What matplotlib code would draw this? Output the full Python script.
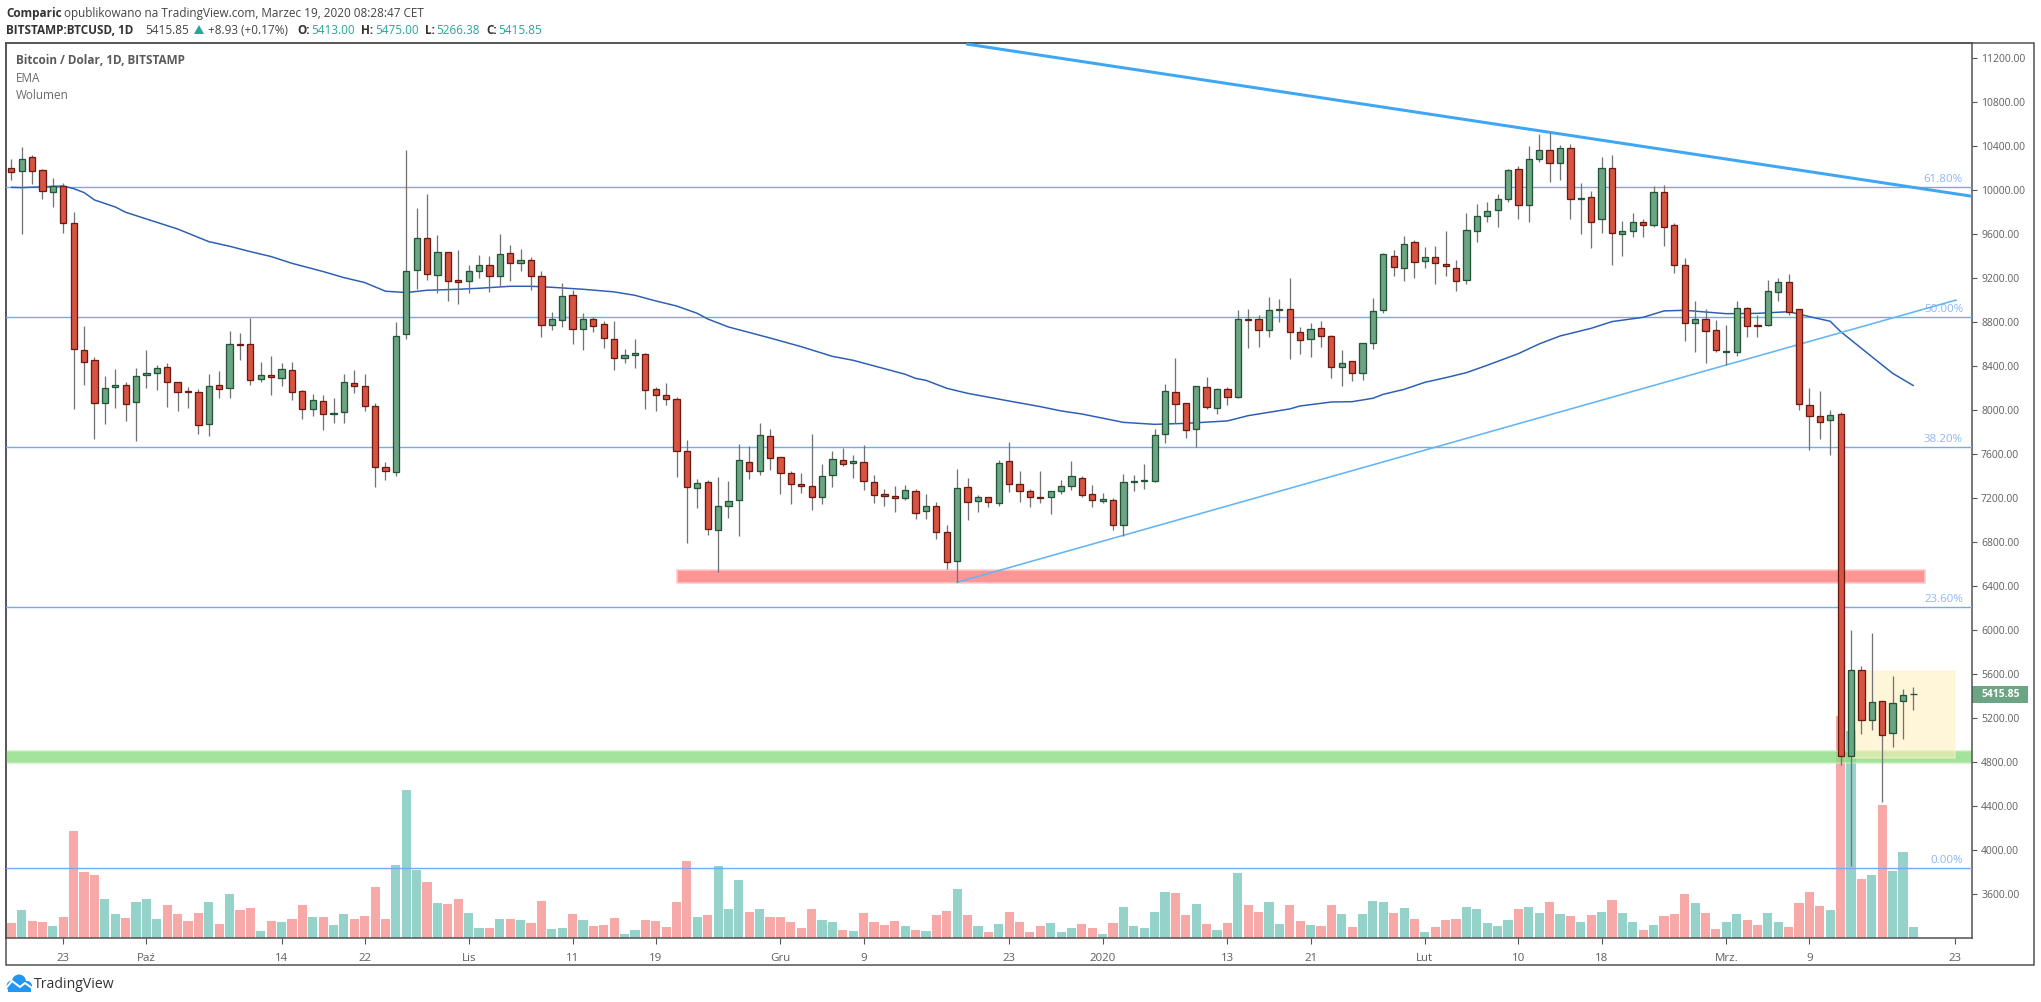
import matplotlib
matplotlib.use("Agg")
import matplotlib.pyplot as plt
from matplotlib.patches import Rectangle, Circle, Polygon
from matplotlib.ticker import FixedLocator, FuncFormatter
from matplotlib.lines import Line2D

plt.rcParams['font.family'] = ['Open Sans', 'DejaVu Sans']

W, H = 2041, 1002

# one letter per daily candle, 18 Sep 2019 .. 19 Mar 2020 (r = down, g = up)
directions = ("rgrrgrrrrg" "grgggrrrrg" "rgrrgrgrrg" "rggrrrrggg" "rgrrggrgrg"
              "rrggrgrrrg" "grrrrrgrgg" "grgrrrrrgg" "rgrrrrgrgr" "rgrgrgrrrr"
              "gggrrgrggg" "ggrrgrgrgr" "rggrrgrrgr" "gggrgrgrrr" "gggggrggrg"
              "rgrgrggrgr" "rrgrrggrrg" "grrrrgrgrg" "rggg")
highs = [10276,10388,10312,10191,10106,10061,9797,8761,8476,8306,
         8370,8249,8376,8543,8403,8421,8249,8203,8185,8324,
         8352,8715,8694,8833,8433,8488,8424,8433,8179,8140,
         8130,8106,8324,8361,8324,8058,7524,8797,10360,9833,
         9960,9588,9436,9452,9312,9406,9397,9597,9497,9461,
         9388,9261,8888,9148,9088,8876,8846,8803,8806,8549,
         8643,8512,8203,8240,8118,7721,7369,7360,7385,7351,
         7685,7666,7878,7824,7566,7439,7421,7778,7503,7624,
         7648,7584,7675,7406,7278,7303,7315,7278,7230,7157,
         6951,7460,7378,7224,7206,7542,7706,7442,7278,7442,
         7260,7360,7533,7394,7315,7239,7194,7415,7406,7503,
         7824,8230,8469,8057,8212,8297,8194,8206,8906,8915,
         8857,9024,9006,9196,8751,8787,8806,8678,8542,8445,
         8603,9015,9421,9451,9578,9542,9478,9487,9624,9360,
         9787,9869,9887,9960,10187,10215,10396,10505,10515,10405,
         10415,10060,9987,10296,10315,9715,9787,9730,10030,10039,
         9696,9375,8987,8912,8815,8769,8987,8930,8860,9178,
         9197,9233,8912,8197,8169,7997,7975,5993,5668,5970,
         5353,5578,5457,5475]
body_tops = [10194,10276,10294,10176,10030,10030,9694,8539,8449,8194,
             8221,8221,8303,8330,8376,8385,8249,8167,8158,8212,
             8221,8594,8594,8594,8312,8312,8367,8358,8167,8085,
             8076,7967,8249,8240,8212,8030,7476,8667,9258,9558,
             9558,9430,9430,9176,9258,9312,9312,9412,9421,9358,
             9358,9212,8821,9030,9039,8821,8821,8776,8639,8494,
             8512,8503,8185,8130,8094,7621,7330,7339,7121,7166,
             7539,7521,7766,7757,7566,7421,7321,7303,7394,7548,
             7539,7530,7521,7339,7230,7212,7266,7257,7121,7121,
             6885,7285,7294,7203,7203,7512,7530,7321,7257,7203,
             7257,7303,7394,7375,7230,7185,7175,7339,7348,7357,
             7766,8166,8157,8057,8212,8203,8184,8184,8821,8821,
             8821,8903,8912,8912,8703,8730,8739,8666,8421,8439,
             8603,8893,9412,9393,9503,9521,9384,9384,9321,9284,
             9630,9757,9803,9912,10175,10184,10275,10357,10357,10375,
             10375,9921,9930,10193,10193,9621,9702,9702,9975,9975,
             9675,9312,8821,8821,8721,8530,8921,8921,8766,9075,
             9157,9157,8912,8039,7939,7948,7964,5630,5630,5344,
             5353,5331,5409,5415.85]
body_bottoms = [10164,10167,10173,9991,9982,9694,8549,8430,8058,8058,
                8203,8049,8067,8312,8330,8249,8158,8158,7858,7867,
                8185,8194,8588,8267,8276,8294,8285,8158,8003,8003,
                7958,7958,7976,8212,8030,7476,7440,7430,8685,9267,
                9230,9221,9167,9158,9167,9258,9212,9212,9330,9330,
                9212,8767,8767,8812,8730,8730,8758,8648,8467,8467,
                8494,8176,8130,8094,7621,7294,7285,6912,6903,7127,
                7175,7439,7439,7557,7421,7321,7303,7203,7203,7403,
                7503,7512,7348,7221,7212,7194,7194,7057,7075,6885,
                6612,6621,7157,7166,7157,7148,7321,7257,7203,7194,
                7203,7257,7303,7221,7175,7166,6948,6948,7339,7354,
                7354,7775,8048,7812,7821,8021,8012,8112,8112,8818,
                8721,8721,8903,8703,8630,8639,8666,8384,8385,8330,
                8330,8603,8903,9293,9284,9339,9348,9330,9303,9166,
                9175,9621,9757,9812,9912,9857,9857,10275,10239,10239,
                9912,9915,9702,9730,9603,9593,9621,9675,9675,9657,
                9312,8784,8784,8712,8539,8527,8521,8757,8760,8766,
                9066,8890,8048,7939,7885,7903,4847,4847,5175,5175,
                5039,5058,5347,5413]
lows = [10088,9597,10051,9915,9845,9606,8006,8224,7736,7870,
        8015,7900,7718,8197,8179,8024,7991,8015,7782,7764,
        8106,8106,8452,8224,8252,8133,8215,8088,7918,7946,
        7818,7882,7882,8155,7991,7300,7364,7400,8646,9097,
        9179,9061,8988,8961,9061,9197,9070,9124,9170,9261,
        9088,8661,8724,8752,8597,8543,8706,8561,8361,8424,
        8379,8006,7988,8039,7391,6791,7109,6863,6521,7018,
        6854,7372,7409,7454,7233,7142,7245,7091,7145,7297,
        7488,7379,7269,7151,7124,7072,7178,7006,7006,6824,
        6551,6430,6997,7072,7118,7124,7251,7163,7118,7154,
        7051,7236,7272,7209,7118,7148,6906,6854,7260,7275,
        7345,7697,7875,7742,7663,8006,7960,8042,8109,8560,
        8569,8660,8797,8460,8506,8478,8569,8287,8215,8260,
        8269,8551,8881,9215,9169,9197,9287,9142,9215,9078,
        9142,9524,9706,9660,9887,9733,9706,10254,10069,10087,
        9733,9596,9469,9606,9315,9396,9569,9569,9660,9487,
        9242,8624,8524,8424,8527,8406,8487,8660,8660,8760,
        8987,8860,7997,7633,7733,7587,4772,3847,5052,5091,
        4431,4931,5009,5266.38]
volumes = [46,85,52,49,37,64,322,199,190,118,
           73,61,109,118,58,100,73,52,76,109,
           43,133,85,91,22,52,49,58,100,64,
           64,40,73,58,67,154,58,220,445,205,
           169,106,103,118,76,31,31,58,58,55,
           46,112,28,31,73,55,37,40,61,13,
           25,55,52,34,109,232,64,70,217,88,
           175,79,88,64,64,49,31,88,55,49,
           25,22,76,49,40,52,37,25,22,70,
           82,148,70,37,19,43,79,49,19,37,
           46,19,31,43,31,13,46,94,37,31,
           79,139,136,70,103,43,25,46,196,100,
           79,109,43,100,52,40,37,100,73,34,
           73,112,109,76,91,58,19,34,55,58,
           94,88,46,37,55,88,94,76,109,73,
           67,49,70,79,115,76,49,25,40,67,
           73,133,106,76,28,49,73,55,40,76,
           49,34,106,139,97,85,667,622,178,190,
           400,202,259,34]
ema_days = [0,1,5,6,7,8,10,11,13,16,19,21,23,25,27,30,32,34,36,38,40,43,45,48,50,52,55,58,60,62,
            64,66,67,69,73,76,79,81,84,86,87,88,90,92,96,99,101,103,107,110,113,117,119,123,124,127,
            129,131,132,134,136,138,140,142,145,147,149,152,154,157,159,161,163,165,168,171,173,175,176,179,181,183]
ema_values = [10021,10018,10033,10009,9973,9906,9842,9794,9733,9642,9527,9485,9436,9391,9330,9255,9200,9155,9076,9064,
              9085,9094,9103,9121,9121,9112,9094,9070,9039,8988,
              8942,8875,8824,8751,8651,8572,8484,8448,8372,8321,8284,8266,8194,8148,8078,8027,7988,7960,7884,7866,
              7875,7897,7945,8006,8033,8069,
              8072,8103,8139,8184,8248,8290,8336,8403,8509,8597,8669,8739,8800,8839,8897,8903,8887,8872,8875,8890,
              8845,8803,8709,8481,8330,8218]
fib_levels = [10020, 8838, 7656, 6204, 3835]
fib_labels = ["61.80%", "50.00%", "38.20%", "23.60%", "0.00%"]
price_ticks = [3600 + 400 * k for k in range(20)]
date_tick_days = [5, 13, 26, 34, 44, 54, 62, 74, 82, 96, 105, 117, 125, 136, 145, 153, 165, 173, 187]
date_tick_labels = ["23", "Paź", "14", "22", "Lis", "11", "19", "Gru", "9", "23", "2020",
                    "13", "21", "Lut", "10", "18", "Mrz.", "9", "23"]
resistance_zone = (64, 184.1, 6421, 6539)
support_zone = (4785, 4899)
range_box = (177, 187, 4833, 5626)
falling_trend = ([91.85, 188.6], [11324, 9940])
rising_trend = ([91, 187.1], [6430, 8996])
last_price = 5415.85

# pane geometry in pixels
PL, PR, PT, PB, FR, FB = 6, 1972, 43, 938, 2034, 965
def fx(x): return x / W
def fy(y): return 1 - y / H
def px(v): return v * 0.72   # px -> pt at dpi 100

fig = plt.figure(figsize=(W / 100, H / 100), dpi=100, facecolor="white")
rect = [fx(PL), fy(PB), (PR - PL) / W, (PB - PT) / H]
XLIM = ((PL - 11.3) / 10.394, (PR - 11.3) / 10.394)
YLIM = (8000 - (PB - 409.6) / 0.11, 8000 + (409.6 - PT) / 0.11)

vol = fig.add_axes(rect, zorder=1)
vol.set_xlim(*XLIM); vol.set_ylim(0, (PB - PT) * 3)
vol.axis("off")
days = list(range(len(directions)))
vcol = ["#f7a9a7" if d == "r" else "#94d2ca" for d in directions]
vol.bar(days, volumes, width=0.88, color=vcol, linewidth=0)

ax = fig.add_axes(rect, zorder=2)
ax.patch.set_alpha(0)
ax.set_xlim(*XLIM); ax.set_ylim(*YLIM)
for s in ax.spines.values():
    s.set_color("#4f4f4f"); s.set_linewidth(px(1.5))

# zones
ax.add_patch(Rectangle((resistance_zone[0], resistance_zone[2]), resistance_zone[1] - resistance_zone[0],
                       resistance_zone[3] - resistance_zone[2], fc="#fe9595", ec="#ffc9c9", lw=px(1.5), zorder=2))
ax.add_patch(Rectangle((XLIM[0], support_zone[0]), XLIM[1] - XLIM[0], support_zone[1] - support_zone[0],
                       fc="#8edc82", ec="#c4eebd", alpha=0.8, lw=px(1.5), zorder=2))
ax.add_patch(Rectangle((range_box[0], range_box[2]), range_box[1] - range_box[0], range_box[3] - range_box[2],
                       fc="#ffeebb", ec="#fff3d0", alpha=0.55, lw=px(1.5), zorder=2.5))

# fib levels
for lev, lab in zip(fib_levels, fib_labels):
    ax.axhline(lev, color="#74a9f3", lw=px(1.4), zorder=3)
    ax.text((1963 - 11.3) / 10.394, lev + 20, lab, color="#8fb6f2", fontsize=px(11.5), ha="right", va="bottom", zorder=3)

# EMA and trend lines
ax.plot(ema_days, ema_values, color="#2c5fb3", lw=px(1.5), zorder=4, solid_capstyle="round")
ax.plot(*falling_trend, color="#3ea6f2", lw=px(3), zorder=4, solid_capstyle="butt")
ax.plot(*rising_trend, color="#64b5f6", lw=px(1.6), zorder=4)

# candles
ax.vlines(days, lows, highs, color="#737375", lw=px(1.3), zorder=5)
heights = [t - b for t, b in zip(body_tops, body_bottoms)]
fills = ["#d75442" if d == "r" else "#6ba583" for d in directions]
edges = ["#6b1a12" if d == "r" else "#225437" for d in directions]
ax.bar(days, heights, bottom=body_bottoms, width=0.6, color=fills, edgecolor=edges, linewidth=px(1.3), zorder=6)

# axes ticks
ax.yaxis.tick_right()
ax.yaxis.set_major_locator(FixedLocator(price_ticks))
ax.yaxis.set_major_formatter(FuncFormatter(lambda v, p: f"{v:.2f}"))
ax.xaxis.set_major_locator(FixedLocator(date_tick_days))
ax.set_xticklabels(date_tick_labels)
ax.tick_params(axis="y", length=3.6, width=px(1.1), color="#555555", labelcolor="#5f5f5f", labelsize=px(10.4), pad=2.9)
ax.tick_params(axis="x", length=4, width=px(1.1), color="#555555", labelcolor="#5f5f5f", labelsize=px(11.5), pad=7)

# last price tag
ax.annotate(f"{last_price:.2f}", xy=(1.0, last_price), xycoords=("axes fraction", "data"),
            xytext=(px(9), -0.7), textcoords="offset points", color="white", fontsize=px(10.4),
            fontweight="bold", va="center", ha="left", zorder=12, annotation_clip=False)
y_tag = PT + (YLIM[1] - last_price) * 0.11 + 1
fig.add_artist(Rectangle((fx(PR), fy(y_tag + 8.5)), (2028 - PR) / W, 17 / H, transform=fig.transFigure,
                         fc="#6ba583", ec="none", zorder=1.5))

# outer frame
fig.add_artist(Rectangle((fx(PL), fy(FB)), (FR - PL) / W, (FB - PT) / H, transform=fig.transFigure,
                         fc="none", ec="#4f4f4f", lw=px(1.5)))

def t(x, y, s, **kw):
    kw.setdefault("fontsize", px(11.8))
    kw.setdefault("color", "#3c3c3c")
    kw.setdefault("va", "center")
    fig.text(fx(x), fy(y), s, **kw)

# header
t(6, 13, "Comparic", fontweight="bold", color="#333333")
t(64, 13, "opublikowano na TradingView.com, Marzec 19, 2020 08:28:47 CET", color="#444444")
t(6, 30, "BITSTAMP:BTCUSD, 1D", fontweight="bold", color="#333333")
t(145, 30, "5415.85", color="#444444")
fig.add_artist(Polygon([[fx(194), fy(34)], [fx(204), fy(34)], [fx(199), fy(25)]], transform=fig.transFigure,
                       fc="#26a69a", ec="none"))
t(208, 30, "+8.93 (+0.17%)", color="#444444")
teal = "#26a69a"
for x, s in [(297, "O:"), (361, "H:"), (425, "L:"), (486, "C:")]:
    t(x, 30, s, fontweight="bold", color="#333333")
for x, s in [(311, "5413.00"), (375, "5475.00"), (436, "5266.38"), (498, "5415.85")]:
    t(x, 30, s, color=teal)

# legend
t(15.5, 61, "Bitcoin / Dolar, 1D, BITSTAMP", color="#5a5a5a", fontweight="bold")
t(15.5, 78.5, "EMA", color="#6a6a6a")
t(15.5, 95.5, "Wolumen", color="#6a6a6a")

# TradingView logo
blue = "#2196f3"
for cx, cy, r in [(12, 986, 5.5), (19, 981.5, 7), (27, 986, 5)]:
    fig.add_artist(Circle((cx, H - cy), r, transform=None, fc=blue, ec="none"))
fig.add_artist(Rectangle((fx(8), fy(991.5)), 23 / W, 6 / H, transform=fig.transFigure, fc=blue, ec="none"))
fig.add_artist(Line2D([fx(6), fx(12), fx(20), fx(25), fx(32)], [fy(988), fy(981), fy(987), fy(983), fy(988)],
                      transform=fig.transFigure, color="white", lw=px(2)))
t(34, 985, "TradingView", fontsize=px(14), color="#333333")

fig.savefig("out.png", dpi=100, facecolor="white")
